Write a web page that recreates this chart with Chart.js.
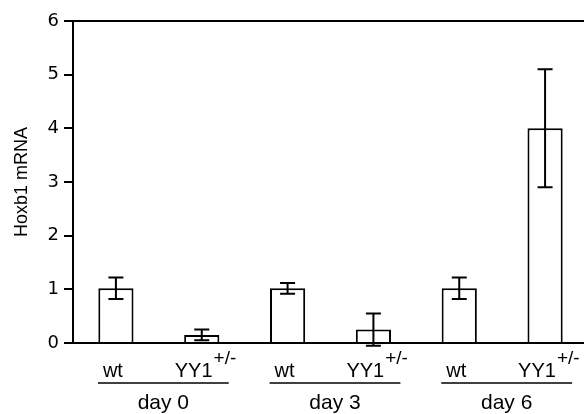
<!DOCTYPE html>
<html>
<head>
<meta charset="utf-8">
<script src="https://cdn.jsdelivr.net/npm/chart.js@4"></script>
<style>
  body { margin: 0; overflow: hidden; background: #fff; }
  #wrap { width: 588px; height: 414px; }
</style>
</head>
<body>
<div id="wrap"><canvas id="hoxChart"></canvas></div>
<script>
// bars: wt / YY1+/- for each day
const genotypes = ['wt', 'YY1', 'wt', 'YY1', 'wt', 'YY1'];
const days = ['day 0', 'day 3', 'day 6'];
const hoxb1 = [1.02, 0.15, 1.02, 0.25, 1.02, 4.0];
const hoxb1Err = [0.2, 0.1, 0.1, 0.3, 0.2, 1.1];
const yTicks = [0, 1, 2, 3, 4, 5, 6];

// error bars on top of the bars
const errorBars = {
  id: 'errorBars',
  afterDatasetsDraw(chart) {
    const ctx = chart.ctx;
    const x = chart.scales.x, y = chart.scales.y;
    ctx.save();
    ctx.strokeStyle = '#000';
    ctx.lineWidth = 2;
    hoxb1.forEach((v, i) => {
      const cx = x.getPixelForValue(i);
      const top = y.getPixelForValue(v + hoxb1Err[i]);
      const bot = y.getPixelForValue(v - hoxb1Err[i]);
      ctx.beginPath();
      ctx.moveTo(cx, top); ctx.lineTo(cx, bot);
      ctx.moveTo(cx - 7.5, top); ctx.lineTo(cx + 7.5, top);
      ctx.moveTo(cx - 7.5, bot); ctx.lineTo(cx + 7.5, bot);
      ctx.stroke();
    });
    ctx.restore();
  }
};

// genotype labels, underlines and day labels under the axis
const groupLabels = {
  id: 'groupLabels',
  afterDraw(chart) {
    const ctx = chart.ctx;
    const x = chart.scales.x;
    const f = '"Liberation Sans", Arial, sans-serif';
    ctx.save();
    ctx.fillStyle = '#000';
    ctx.strokeStyle = '#000';
    ctx.lineWidth = 1.5;
    ctx.textBaseline = 'alphabetic';
    days.forEach((d, g) => {
      const c0 = x.getPixelForValue(g * 2);
      const c1 = x.getPixelForValue(g * 2 + 1);
      // wt
      ctx.font = '20px ' + f;
      ctx.textAlign = 'center';
      ctx.fillText(genotypes[g * 2], c0 - 3, 377);
      // YY1 with superscript
      ctx.textAlign = 'left';
      ctx.font = '20px ' + f;
      const main = genotypes[g * 2 + 1];
      const w = ctx.measureText(main).width;
      const sx = c1 - 27;
      ctx.fillText(main, sx, 377);
      ctx.font = '19px ' + f;
      ctx.fillText('+/-', sx + w + 1, 364);
      // underline
      ctx.beginPath();
      ctx.moveTo(c0 - 18, 383);
      ctx.lineTo(c1 + 27, 383);
      ctx.stroke();
      // day label
      ctx.font = '21px ' + f;
      ctx.textAlign = 'center';
      ctx.fillText(d, (c0 - 18 + c1 + 27) / 2, 409);
    });
    ctx.restore();
  }
};

new Chart(document.getElementById('hoxChart'), {
  type: 'bar',
  data: {
    labels: genotypes,
    datasets: [{
      data: hoxb1,
      backgroundColor: '#fff',
      borderColor: '#000',
      borderWidth: 2,
      borderSkipped: 'bottom',
      categoryPercentage: 1,
      barPercentage: 0.41
    }]
  },
  options: {
    responsive: true,
    maintainAspectRatio: false,
    animation: false,
    layout: { padding: { top: 21, left: 0, right: 0, bottom: 0 } },
    plugins: { legend: { display: false }, tooltip: { enabled: false } },
    scales: {
      x: {
        grid: { display: false },
        border: { color: '#000', width: 2 },
        ticks: { display: false },
        afterFit(scale) { scale.height = 71; }
      },
      y: {
        min: 0,
        max: 6,
        afterBuildTicks(scale) { scale.ticks = yTicks.map(v => ({ value: v })); },
        afterFit(scale) { scale.width = 73; },
        border: { color: '#000', width: 2 },
        grid: {
          color: c => c.tick && c.tick.value === 6 ? '#000' : 'rgba(0,0,0,0)',
          tickColor: '#000',
          lineWidth: 2,
          tickLength: 9,
          drawOnChartArea: true
        },
        ticks: {
          color: '#000',
          padding: 5,
          font: { family: 'DejaVu Sans', size: 18 }
        },
        title: {
          display: true,
          text: 'Hoxb1 mRNA',
          color: '#000',
          font: { family: 'Liberation Sans', size: 18 },
          padding: { top: 11, bottom: 0 }
        }
      }
    }
  },
  plugins: [errorBars, groupLabels]
});
</script>
</body>
</html>
